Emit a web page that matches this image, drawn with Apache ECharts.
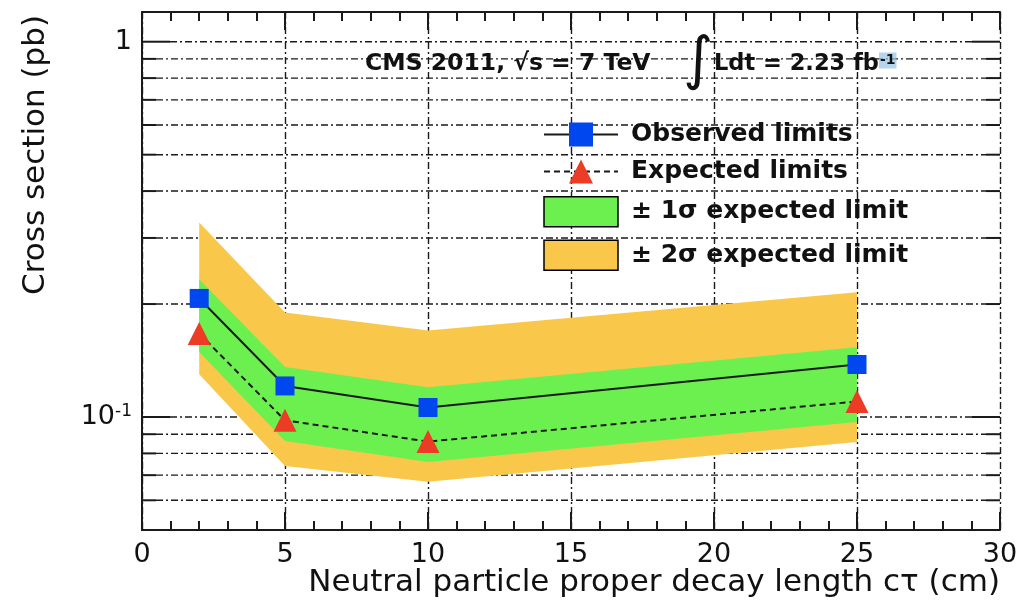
<!DOCTYPE html>
<html>
<head>
<meta charset="utf-8">
<title>CMS 2011 cross section limits</title>
<script src="https://cdn.jsdelivr.net/npm/echarts@6/dist/echarts.min.js"></script>
<style>
  html, body { margin: 0; padding: 0; background: #ffffff; }
  #chart { width: 1030px; height: 603px; }
</style>
</head>
<body>
<div id="chart"></div>
<script>
// Proper decay length c*tau (cm) of the simulated samples
const ctau = [2, 5, 10, 25];
// 95% CL upper limits on the cross section (pb)
const observed = [0.207, 0.121, 0.106, 0.138];
const expected = [0.167, 0.098, 0.086, 0.110];
const oneSigmaLow  = [0.149, 0.0863, 0.0759, 0.097];
const oneSigmaHigh = [0.233, 0.136, 0.120, 0.1535];
const twoSigmaLow  = [0.130, 0.0741, 0.0672, 0.0858];
const twoSigmaHigh = [0.330, 0.190, 0.170, 0.215];

// Axis ranges and grid lines
const xRange = [0, 30];
const xStep = 5;
const yRange = [0.05, 1.2];
const yGridValues = [0.06, 0.07, 0.08, 0.09, 0.1, 0.2, 0.3, 0.4, 0.5, 0.6, 0.7, 0.8, 0.9, 1];

const seriesNames = ['Observed limits', 'Expected limits', '\u00b1 1\u03c3 expected limit', '\u00b1 2\u03c3 expected limit'];

const INK = '#1a1a1a';
const TEXT = '#111111';
const YELLOW = '#f9c84b';
const GREEN = '#6cf04f';
const BLUE = '#0047ef';
const RED = '#ec3c25';
const GRID_DASH = [7, 3, 2, 3];
const FONT = '"DejaVu Sans", Verdana, sans-serif';

function isDecade(v) {
  const e = Math.log10(v);
  return Math.abs(e - Math.round(e)) < 1e-6;
}

// Horizontal dash-dot grid line with solid tick stubs on both frame sides
function renderGridLine(params, api) {
  const v = api.value(1);
  const a = api.coord([xRange[0], v]);
  const b = api.coord([xRange[1], v]);
  const tick = isDecade(v) ? 28 : 14;
  return {
    type: 'group',
    children: [
      { type: 'line', shape: { x1: a[0] + tick, y1: a[1], x2: b[0] - tick, y2: b[1] },
        style: { stroke: INK, lineWidth: 1.4, lineDash: GRID_DASH } },
      { type: 'line', shape: { x1: a[0], y1: a[1], x2: a[0] + tick, y2: a[1] },
        style: { stroke: INK, lineWidth: 2 } },
      { type: 'line', shape: { x1: b[0] - tick, y1: b[1], x2: b[0], y2: b[1] },
        style: { stroke: INK, lineWidth: 2 } }
    ]
  };
}

// Filled band between a lower and an upper limit curve
function bandRenderer(low, high, fill) {
  return function (params, api) {
    if (params.dataIndex !== 0) return null;
    const pts = [];
    for (let i = 0; i < ctau.length; i++) pts.push(api.coord([ctau[i], high[i]]));
    for (let i = ctau.length - 1; i >= 0; i--) pts.push(api.coord([ctau[i], low[i]]));
    return { type: 'polygon', shape: { points: pts }, style: { fill: fill, stroke: null } };
  };
}

const chart = echarts.init(document.getElementById('chart'), null, { renderer: 'canvas' });

const option = {
  backgroundColor: '#ffffff',
  animation: false,
  grid: { left: 142, right: 30, top: 12, bottom: 73, containLabel: false },
  xAxis: [
    {
      type: 'value', position: 'bottom', min: xRange[0], max: xRange[1], interval: xStep,
      axisLine: { show: true, lineStyle: { color: INK, width: 2 } },
      axisTick: { show: true, inside: true, length: 18, lineStyle: { color: INK, width: 2 } },
      minorTick: { show: true, splitNumber: 5, length: 9, lineStyle: { color: INK, width: 2 } },
      splitLine: { show: true, lineStyle: { color: INK, width: 1.4, type: GRID_DASH } },
      axisLabel: { show: true, margin: 11, fontSize: 27, color: TEXT, fontFamily: FONT }
    },
    {
      type: 'value', position: 'top', min: xRange[0], max: xRange[1], interval: xStep,
      axisLine: { show: true, lineStyle: { color: INK, width: 2 } },
      axisTick: { show: true, inside: true, length: 18, lineStyle: { color: INK, width: 2 } },
      minorTick: { show: true, splitNumber: 5, length: 9, lineStyle: { color: INK, width: 2 } },
      splitLine: { show: false },
      axisLabel: { show: false }
    }
  ],
  yAxis: [
    {
      type: 'log', logBase: 10, position: 'left', min: yRange[0], max: yRange[1],
      axisLine: { show: true, lineStyle: { color: INK, width: 2 } },
      axisTick: { show: false },
      splitLine: { show: false },
      axisLabel: {
        show: true, margin: 10, color: TEXT, fontFamily: FONT, fontSize: 27,
        formatter: function (v) {
          if (!isDecade(v)) return '';
          const e = Math.round(Math.log10(v));
          return e === 0 ? '1' : '10{sup|' + e + '}';
        },
        rich: { sup: { fontSize: 17, verticalAlign: 'top', color: TEXT, fontFamily: FONT, padding: [0, 0, 10, 0] } }
      }
    },
    {
      type: 'log', logBase: 10, position: 'right', min: yRange[0], max: yRange[1],
      axisLine: { show: true, lineStyle: { color: INK, width: 2 } },
      axisTick: { show: false }, splitLine: { show: false }, axisLabel: { show: false }
    }
  ],
  legend: {
    orient: 'vertical', left: 538, top: 117,
    itemWidth: 74, itemHeight: 30, itemGap: 12,
    selectedMode: false,
    textStyle: { fontFamily: FONT, fontWeight: 'bold', fontSize: 25, color: TEXT, padding: [0, 0, 0, 8] },
    data: [
      { name: seriesNames[0] },
      { name: seriesNames[1] },
      { name: seriesNames[2], icon: 'rect', itemStyle: { borderColor: '#000', borderWidth: 1.5 } },
      { name: seriesNames[3], icon: 'rect', itemStyle: { borderColor: '#000', borderWidth: 1.5 } }
    ]
  },
  series: [
    {
      name: 'grid', type: 'custom', z: 1, silent: true,
      xAxisIndex: 0, yAxisIndex: 0,
      encode: { x: 0, y: 1 },
      data: yGridValues.map(v => [xRange[0], v]),
      renderItem: renderGridLine
    },
    {
      name: seriesNames[3], type: 'custom', z: 2, silent: true,
      encode: { x: 0, y: [1, 2] },
      itemStyle: { color: YELLOW },
      data: ctau.map((x, i) => [x, twoSigmaLow[i], twoSigmaHigh[i]]),
      renderItem: bandRenderer(twoSigmaLow, twoSigmaHigh, YELLOW)
    },
    {
      name: seriesNames[2], type: 'custom', z: 3, silent: true,
      encode: { x: 0, y: [1, 2] },
      itemStyle: { color: GREEN },
      data: ctau.map((x, i) => [x, oneSigmaLow[i], oneSigmaHigh[i]]),
      renderItem: bandRenderer(oneSigmaLow, oneSigmaHigh, GREEN)
    },
    {
      name: seriesNames[1], type: 'line', z: 4,
      data: ctau.map((x, i) => [x, expected[i]]),
      symbol: 'triangle', symbolSize: 23,
      itemStyle: { color: RED },
      lineStyle: { color: INK, width: 2, type: [6, 4] }
    },
    {
      name: seriesNames[0], type: 'line', z: 5,
      data: ctau.map((x, i) => [x, observed[i]]),
      symbol: 'rect', symbolSize: 19,
      itemStyle: { color: BLUE },
      lineStyle: { color: INK, width: 2, type: 'solid' }
    }
  ],
  graphic: [
    {
      type: 'text', x: 365, y: 64, z: 10,
      style: { text: 'CMS 2011, \u221as = 7 TeV', font: 'bold 23.5px ' + FONT, fill: TEXT, verticalAlign: 'middle' }
    },
    {
      type: 'text', x: 698, y: 63, z: 10,
      style: { text: '\u222b', font: '58px ' + FONT, fill: TEXT, align: 'center', verticalAlign: 'middle' }
    },
    {
      type: 'text', x: 714, y: 64, z: 10,
      style: {
        text: 'Ldt = 2.23 fb{sup|-1}', font: 'bold 22.5px ' + FONT, fill: TEXT, verticalAlign: 'middle',
        rich: { sup: { font: 'bold 14px ' + FONT, fill: TEXT, verticalAlign: 'top', backgroundColor: 'rgba(150,195,225,0.7)', padding: [1, 1, 1, 1] } }
      }
    },
    {
      type: 'text', x: 1000, y: 583, z: 10,
      style: { text: 'Neutral particle proper decay length c\u03c4 (cm)', font: '31px ' + FONT, fill: TEXT, align: 'right', verticalAlign: 'middle' }
    },
    {
      type: 'text', x: 36, y: 15, rotation: Math.PI / 2, z: 10,
      style: { text: 'Cross section (pb)', font: '31px ' + FONT, fill: TEXT, align: 'right', verticalAlign: 'middle' }
    }
  ]
};

chart.setOption(option);
</script>
</body>
</html>
